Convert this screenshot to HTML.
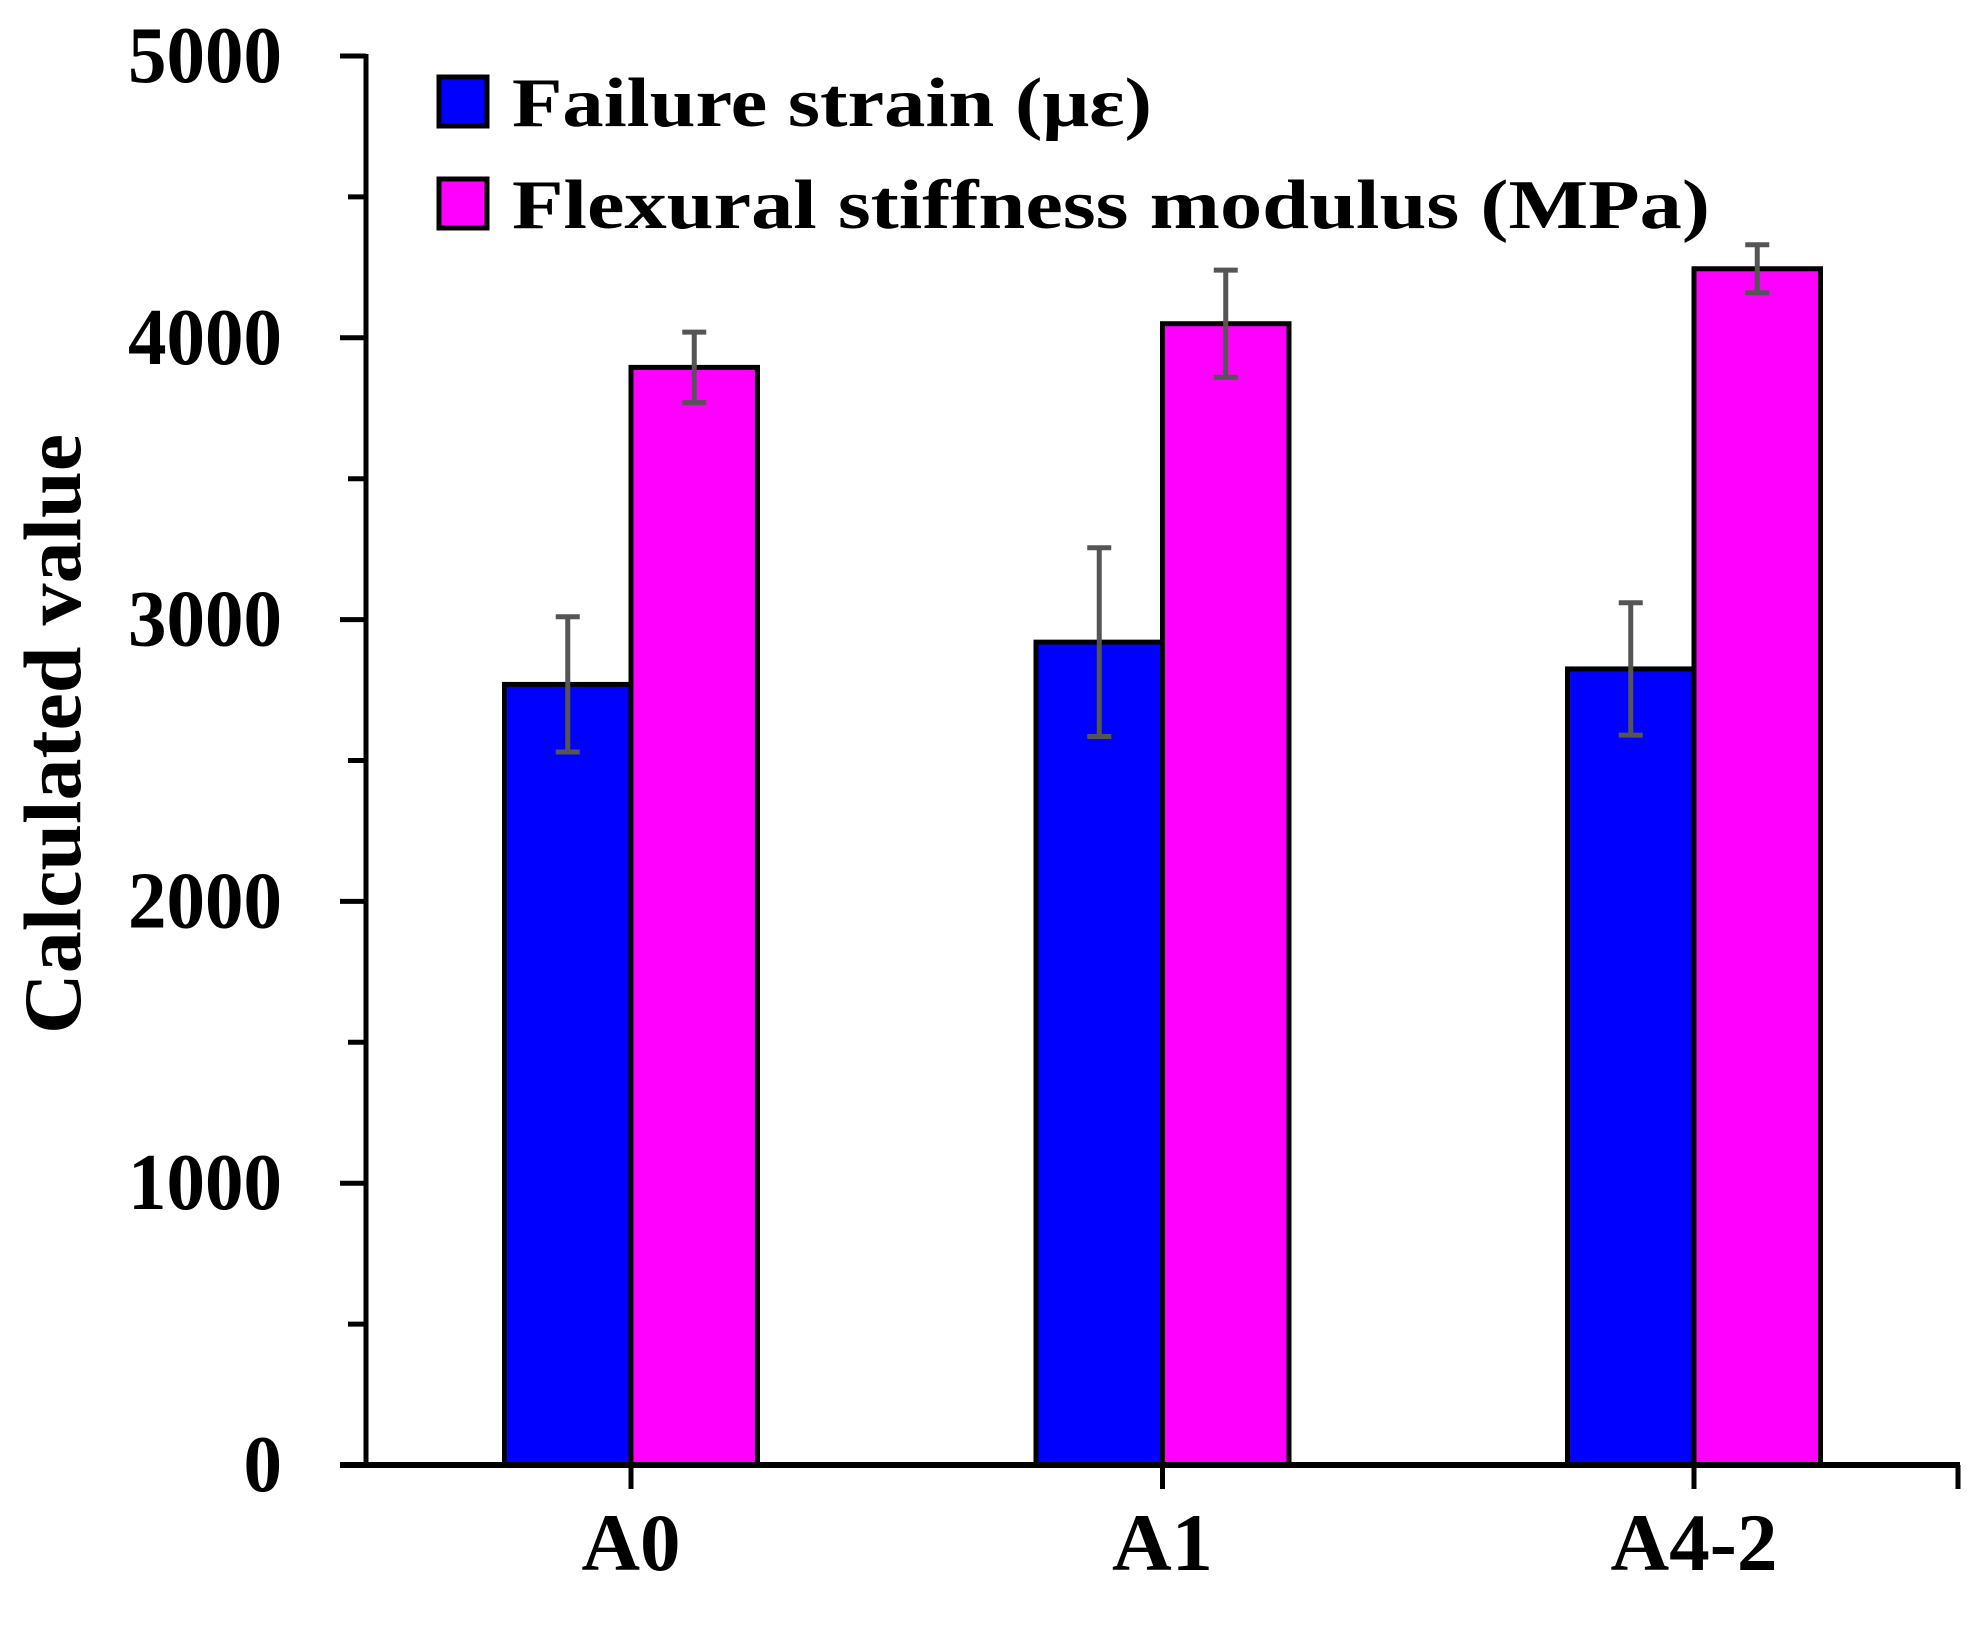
<!DOCTYPE html>
<html><head><meta charset="utf-8"><style>
html,body{margin:0;padding:0;background:#fff;}
svg text{font-family:"Liberation Serif",serif;font-weight:bold;fill:#000;}
</style></head><body>
<svg id="chart" width="1982" height="1641" viewBox="0 0 1982 1641" xmlns="http://www.w3.org/2000/svg">
<g id="bars"></g>
<g id="axes"></g>
<text transform="translate(80,734) rotate(-90)" text-anchor="middle" font-size="82" textLength="600" lengthAdjust="spacingAndGlyphs">Calculated value</text>
<g>
<rect x="439" y="77" width="48" height="49" fill="#0000ff" stroke="#000" stroke-width="5"/>
<text x="512" y="126" font-size="70" textLength="640" lengthAdjust="spacingAndGlyphs">Failure strain (με)</text>
<rect x="439" y="179" width="48" height="49" fill="#ff00ff" stroke="#000" stroke-width="5"/>
<text x="512" y="228" font-size="70" textLength="1198" lengthAdjust="spacingAndGlyphs">Flexural stiffness modulus (MPa)</text>
</g>
</svg>
<script>
const categories = ["A0","A1","A4-2"];
const failureStrain = [2770, 2920, 2825];
const failureStrainErr = [240, 335, 235];
const flexModulus = [3895, 4050, 4245];
const flexModulusErr = [125, 190, 85];
const yTicks = [0,1000,2000,3000,4000,5000];
const yTickLabels = ["0","1000","2000","3000","4000","5000"];

const NS="http://www.w3.org/2000/svg";
const x0=366, x1=1960, y0=1465, yTop=56, yMax=5000;
const yScale=v=>y0-(v/yMax)*(y0-yTop);
const catX=i=>631+i*531.5;
const barW=126.5;
const catW={"A0":99,"A1":101,"A4-2":167};
function mk(tag,attrs,parent){const e=document.createElementNS(NS,tag);for(const k in attrs)e.setAttribute(k,attrs[k]);parent.appendChild(e);return e;}
const bars=document.getElementById('bars'), axes=document.getElementById('axes');
const series=[{v:failureStrain,e:failureStrainErr,c:"#0000ff",n:"failure-strain",off:-1},{v:flexModulus,e:flexModulusErr,c:"#ff00ff",n:"flexural-modulus",off:0}];
series.forEach(s=>{
  categories.forEach((c,i)=>{
    const x=catX(i)+s.off*barW, y=yScale(s.v[i]);
    const r=mk('rect',{x:x,y:y,width:barW,height:y0-y,fill:s.c,stroke:"#000","stroke-width":5},bars);
    
    
  });
});
series.forEach(s=>{
  categories.forEach((c,i)=>{
    const cx=catX(i)+s.off*barW+barW/2;
    const yh=yScale(s.v[i]+s.e[i]), yl=yScale(s.v[i]-s.e[i]);
    const g=mk('g',{stroke:"#555","stroke-width":5},bars);
    
    
    mk('line',{x1:cx,x2:cx,y1:yh,y2:yl},g);
    mk('line',{x1:cx-12,x2:cx+12,y1:yh,y2:yh},g);
    mk('line',{x1:cx-12,x2:cx+12,y1:yl,y2:yl},g);
  });
});
const ya=mk('line',{x1:x0,x2:x0,y1:yTop-2,y2:y0,stroke:"#000","stroke-width":5},axes);


const xa=mk('line',{x1:340,x2:x1,y1:y0,y2:y0,stroke:"#000","stroke-width":6},axes);


yTicks.forEach((v,i)=>{
  const y=yScale(v);
  mk('line',{x1:340,x2:x0,y1:y,y2:y,stroke:"#000","stroke-width":5},axes);
  if(i<yTicks.length-1){const ym=yScale(v+500);mk('line',{x1:348,x2:x0,y1:ym,y2:ym,stroke:"#000","stroke-width":5},axes);}
  const t=mk('text',{x:282,y:y+26,"text-anchor":"end","font-size":80,textLength:yTickLabels[i].length*38.5,lengthAdjust:"spacingAndGlyphs"},axes);
  t.textContent=yTickLabels[i];
  
  
});
categories.forEach((c,i)=>{
  const x=catX(i);
  mk('line',{x1:x,x2:x,y1:y0,y2:y0+24,stroke:"#000","stroke-width":5},axes);
  const t=mk('text',{x:x,y:1570,"text-anchor":"middle","font-size":82,textLength:catW[c],lengthAdjust:"spacingAndGlyphs"},axes);
  t.textContent=c;
  
  
});
mk('line',{x1:x1-2,x2:x1-2,y1:y0,y2:y0+24,stroke:"#000","stroke-width":5},axes);
</script>
</body></html>
